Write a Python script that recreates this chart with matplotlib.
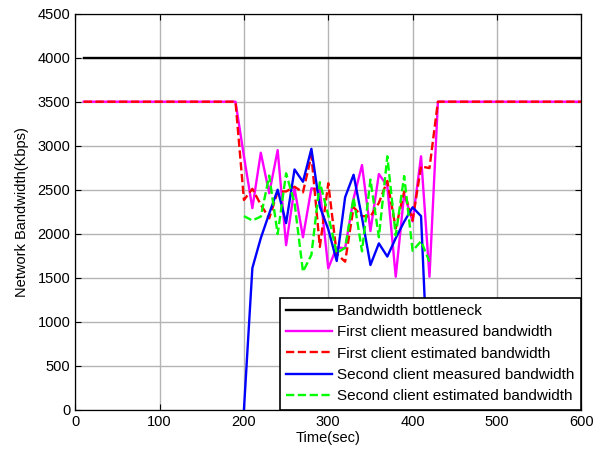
import matplotlib
matplotlib.use("Agg")
import matplotlib.pyplot as plt

plt.rcParams['font.family'] = ['Liberation Sans', 'DejaVu Sans']

# Bottleneck capacity (Kbps)
t_bottleneck = [10, 600]
bottleneck = [4000, 4000]

# First client (time in seconds, bandwidth in Kbps)
t_first = [10, 190, 200, 210, 220, 230, 240, 250, 260, 270, 280, 290, 300,
           310, 320, 330, 340, 350, 360, 370, 380, 390, 400, 410, 420, 430, 600]
first_measured = [3500, 3500, 2880, 2290, 2920, 2460, 2950, 1870, 2516, 1960,
                  2516, 2500, 1607, 1845, 1834, 2400, 2780, 2030, 2678, 2540,
                  1511, 2450, 2140, 2880, 1511, 3500, 3500]
first_estimated = [3500, 3500, 2383, 2510, 2330, 2175, 2477, 2480, 2534, 2470,
                   2890, 1850, 2573, 1770, 1682, 2300, 2200, 2195, 2350, 2600,
                   2060, 2480, 2150, 2765, 2745, 3500, 3500]

# Second client
t_second = [200, 210, 220, 230, 240, 250, 260, 270, 280, 290, 300, 310, 320,
            330, 340, 350, 360, 370, 380, 390, 400, 410, 420]
second_measured = [0, 1610, 1950, 2230, 2500, 2120, 2730, 2590, 2965, 2307,
                   2050, 1690, 2415, 2670, 2180, 1644, 1890, 1740, 1950, 2137,
                   2300, 2200, 0]
second_estimated = [2200, 2150, 2195, 2660, 1995, 2686, 2350, 1568, 1760, 2585,
                    2210, 1780, 1840, 2410, 1800, 2615, 1960, 2880, 1980, 2655,
                    1805, 1915, 1682]

labels = ['Bandwidth bottleneck',
          'First client measured bandwidth',
          'First client estimated bandwidth',
          'Second client measured bandwidth',
          'Second client estimated bandwidth']

fig = plt.figure(figsize=(6.02, 4.54), dpi=100)
ax = fig.add_axes([0.1250, 0.0976, 0.8406, 0.8722])

lw = 1.7
dash = (0, (3.5, 1.5))
ax.plot(t_bottleneck, bottleneck, color='black', lw=lw, label=labels[0])
ax.plot(t_first, first_measured, color='#ff00ff', lw=lw, label=labels[1])
ax.plot(t_first, first_estimated, color='#ff0000', lw=lw, ls=dash, label=labels[2])
ax.plot(t_second, second_measured, color='#0000ff', lw=lw, label=labels[3])
ax.plot(t_second, second_estimated, color='#00ff00', lw=lw, ls=dash, label=labels[4])

ax.set_xlim(0, 600)
ax.set_ylim(0, 4500)
ax.set_xticks(range(0, 601, 100))
ax.set_yticks(range(0, 4501, 500))
ax.grid(True, color='#b4b4b4', lw=1.0, ls='-')
ax.set_axisbelow(True)
ax.tick_params(direction='in', top=True, right=True, length=4, labelsize=10.5,
               width=0.8)
for s in ax.spines.values():
    s.set_linewidth(0.9)

ax.set_xlabel('Time(sec)', fontsize=10.5, labelpad=2)
ax.set_ylabel('Network Bandwidth(Kbps)', fontsize=10.5, labelpad=6)

leg = ax.legend(loc='lower right', bbox_to_anchor=(1.0, 0.0), borderaxespad=0,
                fontsize=11, frameon=True, fancybox=False, framealpha=1,
                edgecolor='black', handlelength=3.0, handletextpad=0.35,
                labelspacing=0.48, borderpad=0.42)
leg.get_frame().set_linewidth(1.2)

fig.savefig('out.png', dpi=100)
